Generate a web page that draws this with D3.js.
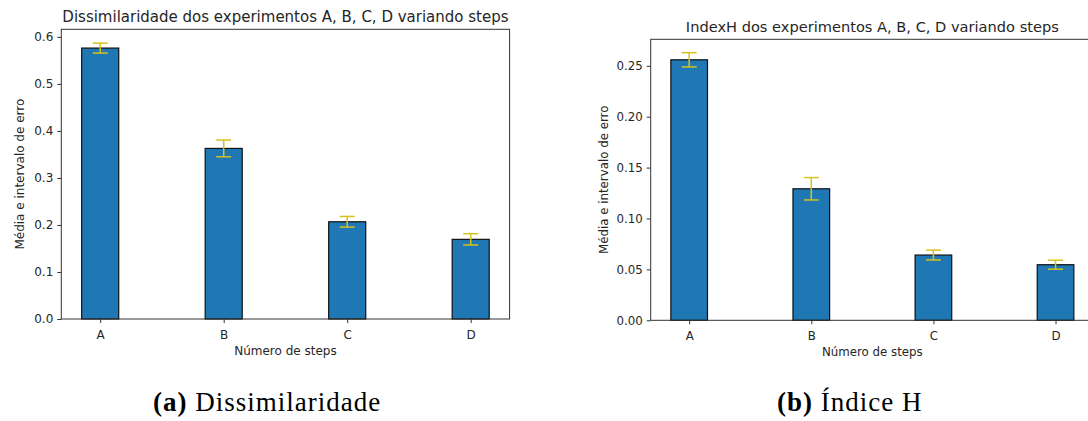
<!DOCTYPE html>
<html>
<head>
<meta charset="utf-8">
<script src="https://cdn.jsdelivr.net/npm/d3@7"></script>
<style>
  body { margin: 0; background: #fff; }
  svg { display: block; font-family: 'DejaVu Sans', sans-serif; }
</style>
</head>
<body>
<div id="chart"></div>
<script>
const categories = ['A', 'B', 'C', 'D']

const dissimMeans = [0.5762, 0.3628, 0.2068, 0.1694]
const dissimErrors = [0.0106, 0.0178, 0.0113, 0.012]
const dissimTicks = [0, 0.1, 0.2, 0.3, 0.4, 0.5, 0.6]

const indexHMeans = [0.2559, 0.1292, 0.0641, 0.0546]
const indexHErrors = [0.007, 0.011, 0.0048, 0.0044]
const indexHTicks = [0, 0.05, 0.1, 0.15, 0.2, 0.25]

const width = 1088
const height = 421

const svg = d3
  .select('#chart')
  .append('svg')
  .attr('width', width)
  .attr('height', height)

svg.append('rect').attr('width', width).attr('height', height).attr('fill', '#fff')

const renderPanel = ({ means, errors, ticks, tickFormat, box, title, titleY, titleSize, fontSize, ylabelX }) => {
  const x = d3.scaleLinear().domain([-0.315, 3.315]).range([box.left, box.right])
  const top = d3.max(means.map((m, i) => m + errors[i])) * 1.05
  const y = d3.scaleLinear().domain([0, top]).range([box.bottom, box.top])
  const barWidth = 0.3
  const g = svg.append('g')

  // bars
  g.selectAll('.bar')
    .data(means)
    .enter()
    .append('rect')
    .attr('class', 'bar')
    .attr('x', (d, i) => x(i - barWidth / 2))
    .attr('width', x(barWidth) - x(0))
    .attr('y', (d) => y(d))
    .attr('height', (d) => y(0) - y(d))
    .attr('fill', '#1f77b4')
    .attr('stroke', '#111')
    .attr('stroke-width', 1.2)

  // error bars
  const errColor = '#d6c21e'
  const cap = 7.5
  const err = g.selectAll('.err').data(means).enter().append('g').attr('class', 'err')
  err.append('line')
    .attr('x1', (d, i) => x(i))
    .attr('x2', (d, i) => x(i))
    .attr('y1', (d, i) => y(d - errors[i]))
    .attr('y2', (d, i) => y(d + errors[i]))
  err.append('line')
    .attr('x1', (d, i) => x(i) - cap)
    .attr('x2', (d, i) => x(i) + cap)
    .attr('y1', (d, i) => y(d + errors[i]))
    .attr('y2', (d, i) => y(d + errors[i]))
  err.append('line')
    .attr('x1', (d, i) => x(i) - cap)
    .attr('x2', (d, i) => x(i) + cap)
    .attr('y1', (d, i) => y(d - errors[i]))
    .attr('y2', (d, i) => y(d - errors[i]))
  err.selectAll('line').attr('stroke', errColor).attr('stroke-width', 1.5)

  // axes frame
  g.append('rect')
    .attr('x', box.left)
    .attr('y', box.top)
    .attr('width', box.right - box.left)
    .attr('height', box.bottom - box.top)
    .attr('fill', 'none')
    .attr('stroke', '#333')
    .attr('stroke-width', 1)

  const yAxis = g.append('g')
    .attr('transform', `translate(${box.left},0)`)
    .call(d3.axisLeft(y).tickValues(ticks).tickFormat(d3.format(tickFormat)).tickSize(4).tickPadding(4))
  const xAxis = g.append('g')
    .attr('transform', `translate(0,${box.bottom})`)
    .call(d3.axisBottom(x).tickValues([0, 1, 2, 3]).tickFormat((i) => categories[i]).tickSize(4).tickPadding(7))
  ;[yAxis, xAxis].forEach((a) => {
    a.select('.domain').remove()
    a.selectAll('line').attr('stroke', '#333')
    a.selectAll('text').attr('fill', '#262626').style('font-size', fontSize + 'px').style('font-family', 'DejaVu Sans')
  })

  const mid = (box.left + box.right) / 2
  g.append('text')
    .text(title)
    .attr('x', mid)
    .attr('y', titleY)
    .attr('text-anchor', 'middle')
    .attr('fill', '#262626')
    .style('font-size', titleSize + 'px')

  g.append('text')
    .text('Número de steps')
    .attr('x', mid)
    .attr('y', box.bottom + 35.8)
    .attr('text-anchor', 'middle')
    .attr('fill', '#262626')
    .style('font-size', fontSize + 'px')

  g.append('text')
    .text('Média e intervalo de erro')
    .attr('transform', `translate(${ylabelX},${(box.top + box.bottom) / 2}) rotate(-90)`)
    .attr('text-anchor', 'middle')
    .attr('fill', '#262626')
    .style('font-size', fontSize + 'px')
}

renderPanel({
  means: dissimMeans,
  errors: dissimErrors,
  ticks: dissimTicks,
  tickFormat: '.1f',
  box: { left: 61.3, right: 509.6, top: 29.3, bottom: 319 },
  title: 'Dissimilaridade dos experimentos A, B, C, D variando steps',
  titleY: 21.7,
  titleSize: 15,
  fontSize: 12,
  ylabelX: 23.5
})

renderPanel({
  means: indexHMeans,
  errors: indexHErrors,
  ticks: indexHTicks,
  tickFormat: '.2f',
  box: { left: 650.7, right: 1094, top: 39.3, bottom: 320.3 },
  title: 'IndexH dos experimentos A, B, C, D variando steps',
  titleY: 31.7,
  titleSize: 14.6,
  fontSize: 11.8,
  ylabelX: 607.5
})

// sub-figure captions
const captions = [
  { tag: '(a)', text: ' Dissimilaridade', x: 153 },
  { tag: '(b)', text: ' Índice H', x: 777 }
]
captions.forEach((c) => {
  const t = svg.append('text')
    .attr('x', c.x)
    .attr('y', 411)
    .attr('fill', '#000')
    .style('font-family', "'Liberation Serif', serif")
    .style('font-size', '27px')
    .style('letter-spacing', '1px')
  t.append('tspan').text(c.tag).style('font-weight', 'bold')
  t.append('tspan').text(c.text)
})
</script>
</body>
</html>
